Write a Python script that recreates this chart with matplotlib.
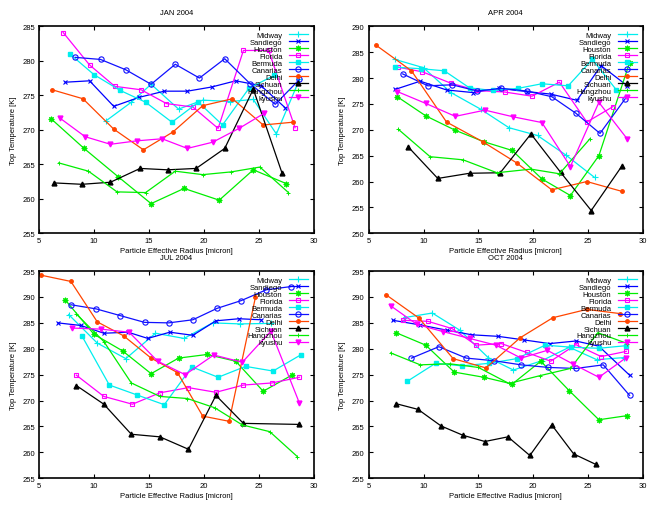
import matplotlib
matplotlib.use('Agg')
import matplotlib.pyplot as plt

plt.rcParams['font.family'] = ['Liberation Sans', 'DejaVu Sans']

stations = ['Midway', 'Sandiego', 'Houston', 'Florida', 'Bermuda',
            'Canarias', 'Delhi', 'Sichuan', 'Hangzhou', 'kyushu']

# (radius list, temperature list) per station
jan = {
    'Midway': ([11.1, 13.4, 15.2, 17.7, 19.9, 22.4, 24.5, 26.6, 28.7],
               [271.3, 274.0, 276.6, 273.0, 274.3, 274.1, 274.4, 269.4, 277.3]),
    'Sandiego': ([7.4, 9.6, 11.8, 14.1, 16.4, 18.5, 20.7, 22.9, 25.2, 27.4],
                 [276.9, 277.1, 273.4, 274.7, 275.6, 275.6, 276.2, 277.1, 276.4, 273.2]),
    'Houston': ([6.1, 9.1, 12.2, 15.2, 18.2, 21.4, 24.5, 27.5],
                [271.6, 267.3, 263.2, 259.3, 261.5, 259.8, 264.2, 262.2]),
    'Florida': ([7.2, 9.6, 11.9, 14.3, 16.6, 19.0, 21.3, 23.6, 25.9, 28.3],
                [284.1, 279.4, 276.3, 275.8, 273.8, 273.3, 270.2, 281.5, 281.5, 270.3]),
    'Bermuda': ([7.8, 10.0, 12.4, 14.7, 17.1, 19.5, 21.7, 24.1, 26.4],
                [281.0, 278.0, 275.7, 274.0, 271.1, 274.0, 270.7, 276.0, 277.9]),
    'Canarias': ([8.3, 10.6, 12.9, 15.2, 17.4, 19.6, 21.9, 24.2, 26.5, 28.7],
                 [280.5, 280.2, 278.7, 276.6, 279.5, 277.5, 280.3, 276.7, 273.7, 277.3]),
    'Delhi': ([6.2, 9.0, 11.8, 14.5, 17.2, 19.9, 22.6, 25.4, 28.1],
              [275.8, 274.5, 270.1, 267.1, 269.7, 273.5, 274.5, 270.7, 271.1]),
    'Sichuan': ([6.4, 8.9, 11.5, 14.2, 16.7, 19.3, 21.9, 24.5, 27.1],
                [262.3, 262.1, 262.4, 264.4, 264.2, 264.4, 267.3, 275.9, 263.8]),
    'Hangzhou': ([6.8, 9.5, 12.1, 14.7, 17.4, 19.9, 22.5, 25.1, 27.7],
                 [265.2, 264.0, 261.0, 260.9, 264.0, 263.5, 263.9, 264.6, 260.9]),
    'kyushu': ([6.9, 9.2, 11.5, 13.9, 16.2, 18.5, 20.8, 23.2, 25.5],
               [271.7, 269.0, 267.9, 268.4, 268.7, 267.3, 268.2, 270.2, 272.4]),
}

apr = {
    'Midway': ([7.4, 10.0, 12.5, 15.2, 17.8, 20.4, 23.0, 25.6],
               [283.6, 282.0, 277.2, 274.0, 270.4, 268.9, 265.1, 260.8]),
    'Sandiego': ([7.4, 9.7, 12.1, 14.5, 16.9, 19.4, 21.6, 24.0, 26.2, 28.6],
                 [277.8, 279.4, 277.7, 277.2, 278.0, 277.4, 276.9, 275.7, 282.4, 278.5]),
    'Houston': ([7.6, 10.2, 12.9, 15.5, 18.1, 20.8, 23.4, 26.0, 28.8],
                [276.4, 272.7, 269.9, 267.7, 266.0, 260.5, 257.3, 265.0, 283.0]),
    'Florida': ([7.7, 9.9, 12.5, 14.9, 17.4, 19.9, 22.4, 24.9, 27.3],
                [282.1, 281.2, 279.0, 277.6, 277.3, 276.5, 279.2, 271.5, 274.5]),
    'Bermuda': ([7.4, 9.8, 11.9, 14.2, 16.3, 18.6, 20.8, 23.2, 25.4, 27.6],
                [282.1, 281.8, 281.4, 278.1, 277.6, 278.0, 278.9, 278.5, 283.6, 277.7]),
    'Canarias': ([8.1, 10.4, 12.6, 14.9, 17.1, 19.4, 21.7, 23.9, 26.1, 28.4],
                 [280.8, 278.5, 278.7, 277.5, 278.0, 277.5, 276.4, 273.2, 269.3, 276.0]),
    'Delhi': ([5.7, 8.9, 12.1, 15.4, 18.5, 21.7, 24.9, 28.1],
              [286.3, 281.4, 271.5, 267.7, 263.6, 258.4, 260.0, 258.1]),
    'Sichuan': ([8.6, 11.3, 14.2, 17.0, 19.8, 22.5, 25.3, 28.1],
                [266.7, 260.6, 261.6, 261.7, 269.2, 261.8, 254.4, 263.0]),
    'Hangzhou': ([7.7, 10.6, 13.6, 16.7, 19.8, 22.4, 25.2],
                 [270.1, 264.8, 264.2, 261.7, 262.4, 261.5, 268.3]),
    'kyushu': ([7.6, 10.2, 12.9, 15.6, 18.2, 20.8, 23.4, 26.0, 28.6],
               [277.4, 275.1, 272.6, 273.8, 272.5, 271.4, 262.9, 275.3, 268.2]),
}

jul = {
    'Midway': ([7.7, 10.3, 12.9, 15.6, 18.2, 20.8, 23.3, 26.1],
               [286.6, 281.1, 278.1, 283.0, 282.0, 285.0, 284.8, 284.9]),
    'Sandiego': ([6.7, 8.8, 10.9, 13.1, 14.9, 16.9, 19.0, 21.1, 23.2, 25.2],
                 [285.0, 284.5, 283.0, 283.2, 282.0, 283.2, 282.6, 285.4, 285.8, 285.6]),
    'Houston': ([7.4, 10.0, 12.6, 15.2, 17.7, 20.3, 22.9, 25.4, 28.0],
                [289.4, 282.8, 279.6, 275.2, 278.2, 278.9, 277.6, 271.8, 274.9]),
    'Florida': ([8.4, 10.9, 13.5, 16.0, 18.6, 21.1, 23.6, 26.2, 28.7],
                [274.9, 270.8, 269.3, 271.5, 272.5, 271.6, 273.0, 273.4, 274.5]),
    'Bermuda': ([8.9, 11.4, 13.9, 16.4, 18.9, 21.3, 23.8, 26.3, 28.8],
                [282.5, 273.0, 271.1, 269.2, 276.5, 274.5, 276.6, 275.7, 278.8]),
    'Canarias': ([7.9, 10.2, 12.4, 14.6, 16.8, 19.0, 21.2, 23.4, 25.7, 27.9],
                 [288.5, 287.7, 286.4, 285.1, 285.0, 285.6, 287.8, 289.3, 291.4, 292.0]),
    'Delhi': ([5.2, 7.9, 10.3, 12.7, 15.2, 17.6, 19.9, 22.3, 24.7],
              [294.2, 293.0, 285.2, 282.5, 278.2, 275.4, 267.0, 266.0, 290.0]),
    'Sichuan': ([8.4, 10.9, 13.4, 16.0, 18.6, 21.1, 23.6, 28.7],
                [272.9, 269.3, 263.5, 263.0, 260.6, 271.0, 265.6, 265.4]),
    'Hangzhou': ([8.4, 10.9, 13.4, 16.0, 18.5, 21.0, 23.5, 26.0, 28.5],
                 [286.7, 281.4, 273.4, 270.8, 270.4, 268.6, 265.3, 264.0, 259.2]),
    'kyushu': ([8.0, 10.6, 13.2, 15.8, 18.3, 20.9, 23.5, 26.1, 28.7],
               [284.0, 283.8, 283.2, 277.6, 275.0, 278.8, 277.4, 283.4, 269.5]),
}

oct_ = {
    'Midway': ([8.2, 10.8, 13.3, 15.9, 18.2, 20.8, 23.3, 25.8, 28.3],
               [286.0, 286.9, 283.6, 278.3, 275.9, 277.7, 280.3, 277.9, 278.3]),
    'Sandiego': ([7.2, 9.7, 12.1, 14.4, 16.8, 19.2, 21.5, 23.9, 26.0, 28.8],
                 [285.5, 284.6, 283.6, 282.7, 282.4, 281.7, 281.0, 281.5, 280.5, 274.9]),
    'Houston': ([7.5, 10.2, 12.8, 15.5, 18.1, 20.7, 23.3, 26.0, 28.6],
                [283.1, 280.7, 275.5, 274.5, 273.2, 277.6, 271.9, 266.3, 267.1]),
    'Florida': ([8.1, 10.4, 12.6, 14.8, 17.1, 19.4, 21.6, 23.9, 26.2, 28.5],
                [285.5, 285.3, 283.9, 280.7, 281.0, 279.3, 277.6, 280.8, 278.5, 279.5]),
    'Bermuda': ([8.5, 11.1, 13.5, 16.0, 18.5, 21.1, 23.5, 26.0, 28.5],
                [273.7, 277.2, 276.7, 277.2, 278.1, 280.7, 280.3, 280.1, 280.6]),
    'Canarias': ([8.9, 11.4, 13.9, 16.4, 18.9, 21.4, 23.9, 26.4, 28.8],
                 [278.2, 280.4, 278.2, 277.7, 276.9, 276.4, 276.2, 276.9, 271.0]),
    'Delhi': ([6.6, 9.6, 12.7, 15.7, 18.8, 21.8, 24.9, 27.9],
              [290.4, 285.9, 278.1, 276.3, 282.1, 286.0, 287.6, 286.8]),
    'Sichuan': ([7.5, 9.5, 11.6, 13.6, 15.6, 17.7, 19.7, 21.7, 23.7, 25.7],
                [269.4, 268.3, 265.1, 263.3, 262.1, 263.0, 259.4, 265.3, 259.7, 257.7]),
    'Hangzhou': ([7.0, 9.7, 12.4, 15.0, 17.8, 20.6, 23.4, 25.9, 28.6],
                 [279.2, 276.9, 277.1, 276.4, 273.3, 274.8, 276.2, 283.1, 281.0]),
    'kyushu': ([7.0, 9.4, 11.8, 14.2, 16.6, 18.9, 21.3, 23.6, 26.0, 28.5],
               [288.3, 284.7, 283.3, 282.0, 280.7, 278.2, 279.7, 277.1, 274.5, 278.3]),
}

months = ['JAN 2004', 'APR 2004', 'JUL 2004', 'OCT 2004']
month_data = [jan, apr, jul, oct_]
y_ranges = [(255, 285), (250, 290), (255, 295), (255, 295)]

styles = {
    'Midway':   dict(color='#00eeee', marker='+', ms=4, mew=0.8),
    'Sandiego': dict(color='#0000ff', marker='x', ms=3.5, mew=0.8),
    'Houston':  dict(color='#00ee00', marker=(8, 2, 0), ms=4, mew=0.8),
    'Florida':  dict(color='#ff00ff', marker='s', ms=3.5, mfc='none', mew=0.8),
    'Bermuda':  dict(color='#00eeee', marker='s', ms=3.2),
    'Canarias': dict(color='#1010ff', marker='o', ms=3.8, mfc='none', mew=0.8),
    'Delhi':    dict(color='#ff4500', marker='o', ms=2.5),
    'Sichuan':  dict(color='#000000', marker='^', ms=3.5),
    'Hangzhou': dict(color='#00ee00', marker='+', ms=3, mew=0.7),
    'kyushu':   dict(color='#ff00ff', marker='v', ms=3.5),
}

fig = plt.figure(figsize=(6.47, 5.06), dpi=100)
positions = [
    [0.0603, 0.537, 0.4246, 0.409],
    [0.5699, 0.537, 0.4235, 0.409],
    [0.0603, 0.0528, 0.4246, 0.4095],
    [0.5699, 0.0528, 0.4235, 0.4095],
]

for title, data, yr, pos in zip(months, month_data, y_ranges, positions):
    ax = fig.add_axes(pos)
    for name in stations:
        xs, ys = data[name]
        ax.plot(xs, ys, lw=0.9, label=name, **styles[name])
    ax.set_xlim(5, 30)
    ax.set_ylim(*yr)
    ax.set_xticks(range(5, 31, 5))
    ax.set_yticks(range(yr[0], yr[1] + 1, 5))
    ax.tick_params(direction='in', length=3, width=0.8, labelsize=5.5,
                   top=True, right=True, pad=3)
    for sp in ax.spines.values():
        sp.set_linewidth(1.2)
    ax.set_title(title, fontsize=5.5, pad=9)
    ax.set_xlabel('Particle Effective Radius [micron]', fontsize=5.5, labelpad=2)
    ax.set_ylabel('Top Temperature [K]', fontsize=5.5, labelpad=4)
    ax.legend(loc='upper right', fontsize=5.5, frameon=False, markerfirst=False,
              handlelength=2.6, handletextpad=0.8, labelspacing=-0.05,
              borderaxespad=0.3, borderpad=0.4)

fig.savefig('out.png', dpi=100)
